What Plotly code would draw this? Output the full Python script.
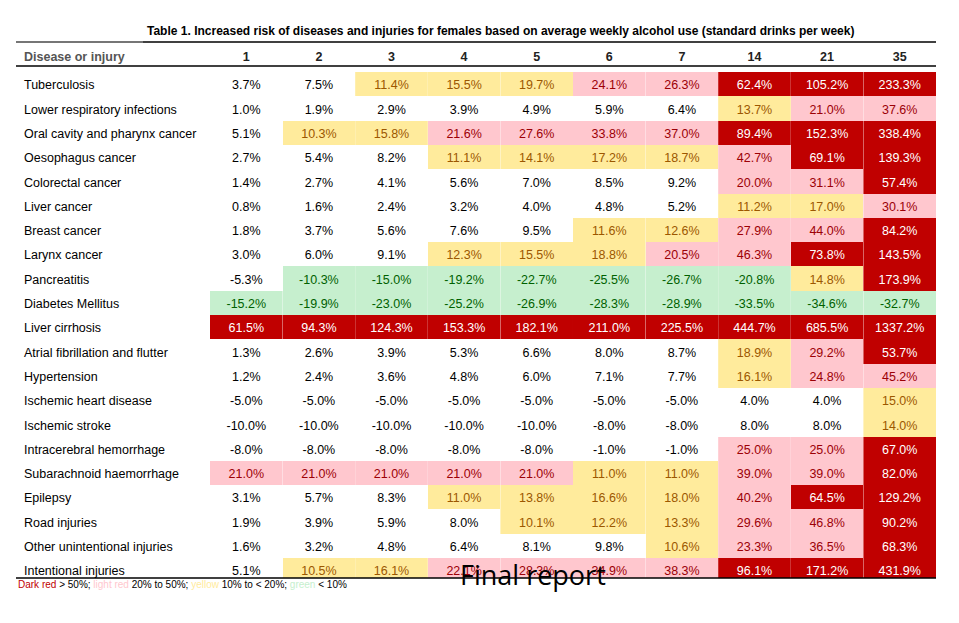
import plotly.graph_objects as go

diseases = [
    "Tuberculosis", "Lower respiratory infections", "Oral cavity and pharynx cancer",
    "Oesophagus cancer", "Colorectal cancer", "Liver cancer", "Breast cancer",
    "Larynx cancer", "Pancreatitis", "Diabetes Mellitus", "Liver cirrhosis",
    "Atrial fibrillation and flutter", "Hypertension", "Ischemic heart disease",
    "Ischemic stroke", "Intracerebral hemorrhage", "Subarachnoid haemorrhage",
    "Epilepsy", "Road injuries", "Other unintentional injuries", "Intentional injuries",
]
drinks = ["1", "2", "3", "4", "5", "6", "7", "14", "21", "35"]

risk = [
    [3.7, 7.5, 11.4, 15.5, 19.7, 24.1, 26.3, 62.4, 105.2, 233.3],
    [1.0, 1.9, 2.9, 3.9, 4.9, 5.9, 6.4, 13.7, 21.0, 37.6],
    [5.1, 10.3, 15.8, 21.6, 27.6, 33.8, 37.0, 89.4, 152.3, 338.4],
    [2.7, 5.4, 8.2, 11.1, 14.1, 17.2, 18.7, 42.7, 69.1, 139.3],
    [1.4, 2.7, 4.1, 5.6, 7.0, 8.5, 9.2, 20.0, 31.1, 57.4],
    [0.8, 1.6, 2.4, 3.2, 4.0, 4.8, 5.2, 11.2, 17.0, 30.1],
    [1.8, 3.7, 5.6, 7.6, 9.5, 11.6, 12.6, 27.9, 44.0, 84.2],
    [3.0, 6.0, 9.1, 12.3, 15.5, 18.8, 20.5, 46.3, 73.8, 143.5],
    [-5.3, -10.3, -15.0, -19.2, -22.7, -25.5, -26.7, -20.8, 14.8, 173.9],
    [-15.2, -19.9, -23.0, -25.2, -26.9, -28.3, -28.9, -33.5, -34.6, -32.7],
    [61.5, 94.3, 124.3, 153.3, 182.1, 211.0, 225.5, 444.7, 685.5, 1337.2],
    [1.3, 2.6, 3.9, 5.3, 6.6, 8.0, 8.7, 18.9, 29.2, 53.7],
    [1.2, 2.4, 3.6, 4.8, 6.0, 7.1, 7.7, 16.1, 24.8, 45.2],
    [-5.0, -5.0, -5.0, -5.0, -5.0, -5.0, -5.0, 4.0, 4.0, 15.0],
    [-10.0, -10.0, -10.0, -10.0, -10.0, -8.0, -8.0, 8.0, 8.0, 14.0],
    [-8.0, -8.0, -8.0, -8.0, -8.0, -1.0, -1.0, 25.0, 25.0, 67.0],
    [21.0, 21.0, 21.0, 21.0, 21.0, 11.0, 11.0, 39.0, 39.0, 82.0],
    [3.1, 5.7, 8.3, 11.0, 13.8, 16.6, 18.0, 40.2, 64.5, 129.2],
    [1.9, 3.9, 5.9, 8.0, 10.1, 12.2, 13.3, 29.6, 46.8, 90.2],
    [1.6, 3.2, 4.8, 6.4, 8.1, 9.8, 10.6, 23.3, 36.5, 68.3],
    [5.1, 10.5, 16.1, 22.1, 28.3, 34.9, 38.3, 96.1, 171.2, 431.9],
]


def style(v):
    if v > 50:
        return "#C00000", "white"
    if v >= 20:
        return "#FFC7CE", "#9C0006"
    if v >= 10:
        return "#FFEB9C", "#9C5700"
    if v < -10:
        return "#C6EFCE", "#006100"
    return "white", "black"


cols_text = [diseases]
cols_fill = [["white"] * len(diseases)]
cols_font = [["black"] * len(diseases)]
for j in range(len(drinks)):
    cols_text.append([f"{row[j]:.1f}%" for row in risk])
    cols_fill.append([style(row[j])[0] for row in risk])
    cols_font.append([style(row[j])[1] for row in risk])

W, H = 959, 623
off = 8  # page offset seen in the render
x0, x1 = 8, 928
top, bot = 42 - off, 578 - off


def py(y):
    return 1 - y / H


fig = go.Figure(go.Table(
    domain=dict(x=[x0 / W, x1 / W], y=[py(bot), py(top)]),
    columnwidth=[194] + [72.6] * len(drinks),
    header=dict(
        values=["<b>Disease or injury</b>"] + [f"<b>{d}</b>" for d in drinks],
        align=["left"] + ["center"] * len(drinks),
        fill_color="white", line=dict(width=0, color="white"),
        font=dict(family="Liberation Sans, Arial", size=12.5, color=["#555555"] + ["#222222"] * len(drinks)),
        height=24,
    ),
    cells=dict(
        values=cols_text,
        align=["left"] + ["center"] * len(drinks),
        fill_color=cols_fill,
        line=dict(width=0, color="white"),
        font=dict(family="Liberation Sans, Arial", size=12.5, color=cols_font),
        height=24.3,
    ),
))

lines = [top, top + 24, bot]
shapes = [dict(type="line", xref="paper", yref="paper", x0=x0 / W, x1=x1 / W,
               y0=py(y), y1=py(y), line=dict(color="black", width=1.5)) for y in lines]
shapes.append(dict(type="line", xref="paper", yref="paper", x0=x0 / W, x1=135 / W,
                   y0=py(top), y1=py(top), line=dict(color="#888888", width=1.5)))

legend = ("<span style='color:#C00000'>Dark red</span> &gt; 50%; "
          "<span style='color:#FFC7CE'>light red</span> 20% to 50%; "
          "<span style='color:#FFEB9C'>yellow</span> 10% to &lt; 20%; "
          "<span style='color:#C6EFCE'>green</span> &lt; 10%")

fig.update_layout(
    width=W, height=H, margin=dict(l=0, r=0, t=0, b=0),
    paper_bgcolor="white", shapes=shapes,
    annotations=[
        dict(text="<b>Table 1. Increased risk of diseases and injuries for females based on average weekly alcohol use (standard drinks per week)</b>",
             x=492 / W, y=py(22 - off), xref="paper", yref="paper", showarrow=False,
             font=dict(family="Liberation Sans, Arial", size=12, color="black")),
        dict(text=legend, x=8 / W, y=py(592 - off), xref="paper", yref="paper", showarrow=False,
             xanchor="left", font=dict(family="Liberation Sans, Arial", size=10, color="black")),
        dict(text="Final report", x=525 / W, y=py(595 - off), xref="paper", yref="paper", showarrow=False,
             font=dict(family="Open Sans", size=27, color="black")),
    ],
)

fig.write_html("out.html")
